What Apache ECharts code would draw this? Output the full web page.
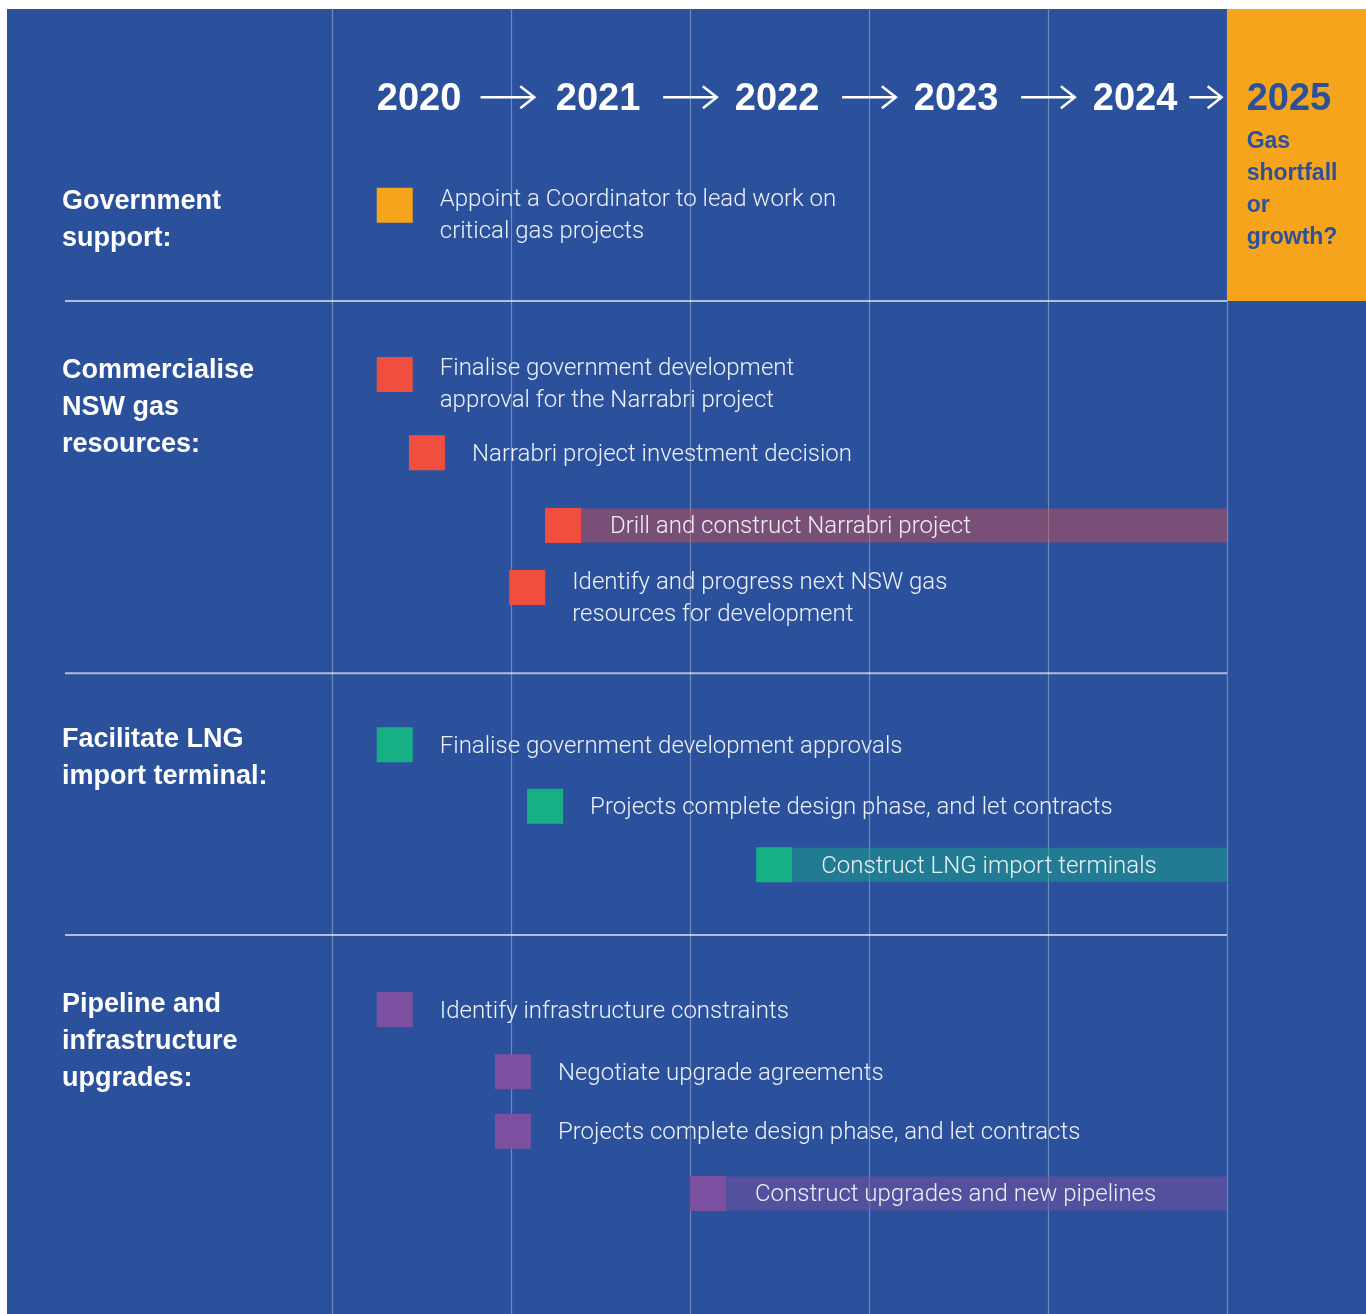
<!DOCTYPE html>
<html>
<head>
<meta charset="utf-8">
<script src="https://cdn.jsdelivr.net/npm/echarts@6/dist/echarts.min.js"></script>
<style>
  html, body { margin: 0; padding: 0; background: #ffffff; }
  #panel { position: absolute; left: 7px; top: 9px; width: 1359px; height: 1305px; background: #2b519d; }
  #chart { position: absolute; left: 0; top: 0; width: 1366px; height: 1314px; }
</style>
</head>
<body>
<div id="panel"></div>
<div id="chart"></div>
<script>
// timeline header
const years = [2020, 2021, 2022, 2023, 2024, 2025];
const yearLabelX = [2020.25, 2021.25, 2022.25, 2023.25, 2024.25, 2025.11];
const yearRow = 1.45;
const arrowFrom = [2020.83, 2021.85, 2022.85, 2023.85, 2024.79];
const arrowTo = [2021.13, 2022.15, 2023.15, 2024.15, 2024.97];
const outlookText = 'Gas\nshortfall\nor\ngrowth?';
const outlookRow = 2.14;

// left hand section headings
const sections = ['Government\nsupport:', 'Commercialise\nNSW gas\nresources:', 'Facilitate LNG\nimport terminal:', 'Pipeline and\ninfrastructure\nupgrades:'];
const sectionRows = [3.1, 5.81, 11.76, 16.02];
const dividerRows = [4.70, 10.69, 14.90];

// tasks (start year, optional end year, row)
const tasks = [
    'Appoint a Coordinator to lead work on\ncritical gas projects',
    'Finalise government development\napproval for the Narrabri project',
    'Narrabri project investment decision',
    'Drill and construct Narrabri project',
    'Identify and progress next NSW gas\nresources for development',
    'Finalise government development approvals',
    'Projects complete design phase, and let contracts',
    'Construct LNG import terminals',
    'Identify infrastructure constraints',
    'Negotiate upgrade agreements',
    'Projects complete design phase, and let contracts',
    'Construct upgrades and new pipelines'
];
const taskGroup = [0, 1, 1, 1, 1, 2, 2, 2, 3, 3, 3, 3];
const taskStart = [2020.25, 2020.25, 2020.43, 2021.19, 2020.99, 2020.25, 2021.09, 2022.37, 2020.25, 2020.91, 2020.91, 2022.0];
const taskEnd = [null, null, null, 2025, null, null, null, 2025, null, null, null, 2025];
const taskRow = [3.16, 5.88, 7.14, 8.31, 9.31, 11.84, 12.83, 13.77, 16.10, 17.10, 18.06, 19.06];

const groupColors = ['#f6a41c', '#f04e3e', '#17b085', '#7b50a0'];
const barColors = ['rgba(246,164,28,0.4)', 'rgba(240,78,62,0.4)', 'rgba(23,176,133,0.45)', 'rgba(123,80,160,0.5)'];

const textColor = '#eef1f8';
const panelBlue = '#2b519d';

let chart = echarts.init(document.getElementById('chart'), null, { width: 1366, height: 1314 });

let option = {
    animation: false,
    grid: { left: 332, right: 139, top: 9, bottom: 0 },
    xAxis: {
        type: 'value',
        min: 2020,
        max: 2025,
        interval: 1,
        axisLine: { show: false },
        axisTick: { show: false },
        axisLabel: { show: false },
        splitLine: { show: true, lineStyle: { color: 'rgba(255,255,255,0.33)', width: 1.2 } }
    },
    yAxis: {
        type: 'value',
        inverse: true,
        min: 0,
        max: 21,
        show: false,
        splitLine: { show: false }
    },
    graphic: [
        // orange outlook box
        { type: 'rect', left: 1227, top: 9, z: 1, shape: { width: 139, height: 292 }, style: { fill: '#f6a41c' } }
    ],
    series: [
        {
            // dividers between sections
            type: 'custom',
            clip: false,
            z: 3,
            data: dividerRows.map(r => [2025, r]),
            renderItem(params, api) {
                let end = api.coord([2025, dividerRows[params.dataIndex]]);
                let start = api.coord([2020, dividerRows[params.dataIndex]]);
                return {
                    type: 'line',
                    shape: { x1: start[0] - 267, y1: end[1], x2: end[0], y2: end[1] },
                    style: { stroke: 'rgba(255,255,255,0.62)', lineWidth: 2 }
                };
            }
        },
        {
            // section headings
            type: 'custom',
            clip: false,
            z: 3,
            data: sections.map((s, i) => [2020, sectionRows[i]]),
            renderItem(params, api) {
                let p = api.coord([2020, sectionRows[params.dataIndex]]);
                return {
                    type: 'text',
                    x: p[0] - 270,
                    y: p[1] - 18.5,
                    style: {
                        text: sections[params.dataIndex],
                        fill: '#ffffff',
                        font: 'bold 27px "Liberation Sans", Arial, sans-serif',
                        lineHeight: 37,
                        verticalAlign: 'top'
                    }
                };
            }
        },
        {
            // year labels
            type: 'custom',
            clip: false,
            z: 4,
            data: years.map((y, i) => [yearLabelX[i], yearRow]),
            renderItem(params, api) {
                let i = params.dataIndex;
                let p = api.coord([yearLabelX[i], yearRow]);
                return {
                    type: 'text',
                    x: p[0],
                    y: p[1],
                    style: {
                        text: String(years[i]),
                        fill: i === years.length - 1 ? panelBlue : '#ffffff',
                        font: 'bold 38px "Liberation Sans", Arial, sans-serif',
                        verticalAlign: 'middle'
                    }
                };
            }
        },
        {
            // arrows between years
            type: 'custom',
            clip: false,
            z: 4,
            data: arrowFrom.map((a, i) => [a, arrowTo[i]]),
            renderItem(params, api) {
                let i = params.dataIndex;
                let a = api.coord([arrowFrom[i], 1.42]);
                let b = api.coord([arrowTo[i], 1.42]);
                let st = { stroke: '#ffffff', lineWidth: 2.5, fill: null };
                return {
                    type: 'group',
                    children: [
                        { type: 'line', shape: { x1: a[0], y1: a[1], x2: b[0], y2: b[1] }, style: st },
                        { type: 'polyline', shape: { points: [[b[0] - 14, b[1] - 11], [b[0], b[1]], [b[0] - 14, b[1] + 11]] }, style: st }
                    ]
                };
            }
        },
        {
            // outlook text inside orange box
            type: 'custom',
            clip: false,
            z: 4,
            data: [[yearLabelX[5], outlookRow]],
            renderItem(params, api) {
                let p = api.coord([yearLabelX[5], outlookRow]);
                return {
                    type: 'text',
                    x: p[0],
                    y: p[1] - 16,
                    style: {
                        text: outlookText,
                        fill: panelBlue,
                        font: 'bold 23px "Liberation Sans", Arial, sans-serif',
                        lineHeight: 32,
                        verticalAlign: 'top'
                    }
                };
            }
        },
        {
            // tasks: square marker, optional duration bar, label
            type: 'custom',
            clip: false,
            z: 5,
            data: tasks.map((t, i) => [taskStart[i], taskRow[i]]),
            renderItem(params, api) {
                let i = params.dataIndex;
                let g = taskGroup[i];
                let p = api.coord([taskStart[i], taskRow[i]]);
                let children = [];
                let hasBar = taskEnd[i] != null;
                if (hasBar) {
                    let e = api.coord([taskEnd[i], taskRow[i]]);
                    children.push({
                        type: 'rect',
                        shape: { x: p[0] + 36, y: p[1] - 17, width: e[0] - p[0] - 36, height: 34 },
                        style: { fill: barColors[g] }
                    });
                }
                children.push({
                    type: 'rect',
                    shape: { x: p[0], y: p[1] - 17.5, width: 36, height: 35 },
                    style: { fill: groupColors[g] }
                });
                let multi = tasks[i].indexOf('\n') >= 0;
                children.push({
                    type: 'text',
                    x: p[0] + (hasBar ? 65 : 63),
                    y: p[1] + (multi ? -21 : -14),
                    style: {
                        text: tasks[i],
                        fill: textColor,
                        font: '300 24px Roboto, "Noto Sans", sans-serif',
                        lineHeight: 32,
                        verticalAlign: 'top'
                    }
                });
                return { type: 'group', children: children };
            }
        }
    ]
};

option && chart.setOption(option);
</script>
</body>
</html>
